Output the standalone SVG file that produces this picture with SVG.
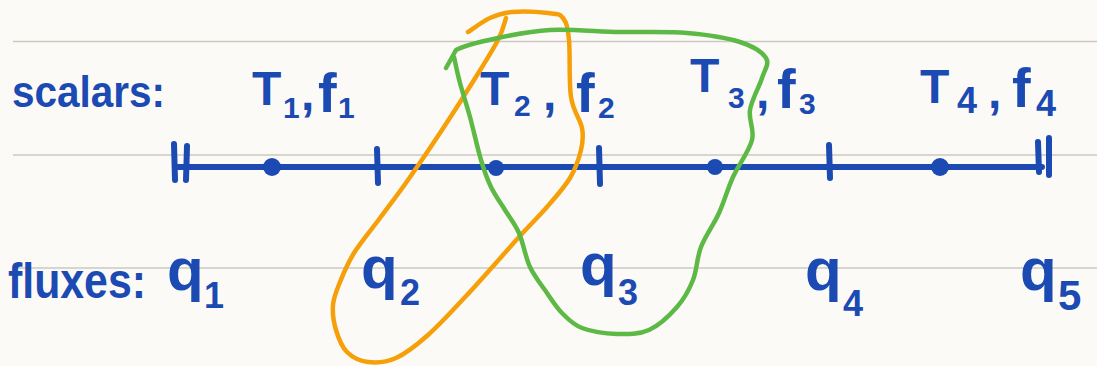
<svg xmlns="http://www.w3.org/2000/svg" width="1097" height="366" viewBox="0 0 1097 366">
<style>
.rule{stroke:#cbc8c2;stroke-width:1.6;fill:none}
.ink{fill:#1b4ab3;font-family:"Liberation Sans",Arial,sans-serif;font-weight:bold}
.big{font-size:48px}
.f{font-size:56px}
.sub{font-size:30px}
.q{font-size:60px}
.qs{font-size:36px}
.axis{stroke:#1b4ab3;stroke-width:6;stroke-linecap:round;fill:none}
.dot{fill:#1b4ab3}
.loop{fill:none;stroke-width:4.5;stroke-linecap:round;stroke-linejoin:round}
</style>
<rect width="1097" height="366" fill="#fcfaf6"/>
<g id="rules">
<line class="rule" x1="13" y1="41.5" x2="1097" y2="41.5"/>
<line class="rule" x1="13" y1="155" x2="1097" y2="155"/>
<line class="rule" x1="13" y1="268" x2="1097" y2="268"/>
</g>
<g id="axis">
<line class="axis" x1="178" y1="167" x2="1042" y2="167"/>
<path class="axis" d="M174,144 L175,180 M187,146 L186,180"/>
<path class="axis" d="M1038,142 L1039,172 M1049,138 L1049,175"/>
<path class="axis" d="M377,149 L378,183 M599,148 L600,184 M829,145 L830,178"/>
<circle class="dot" cx="272" cy="167" r="9"/>
<circle class="dot" cx="496" cy="168" r="8"/>
<circle class="dot" cx="715" cy="167" r="8"/>
<circle class="dot" cx="940" cy="167" r="9"/>
</g>
<g id="scalars-label"><text class="ink" x="12" y="107" font-size="44" textLength="153" lengthAdjust="spacingAndGlyphs">scalars:</text></g>
<g id="fluxes-label"><text class="ink" x="8" y="298" font-size="50" textLength="138" lengthAdjust="spacingAndGlyphs">fluxes:</text></g>
<g id="cell1"><text class="ink"><tspan class="big" x="252" y="105">T</tspan><tspan class="sub" x="283" y="118">1</tspan><tspan class="big" x="301" y="110">,</tspan><tspan class="f" x="318" y="112">f</tspan><tspan class="sub" x="338" y="118">1</tspan></text></g>
<g id="cell2"><text class="ink"><tspan class="big" x="480" y="105">T</tspan><tspan class="sub" x="514" y="116">2</tspan><tspan class="big" x="543" y="110">,</tspan><tspan class="f" x="576" y="112">f</tspan><tspan class="sub" x="598" y="118">2</tspan></text></g>
<g id="cell3"><text class="ink"><tspan class="big" x="690" y="92">T</tspan><tspan class="sub" x="728" y="108">3</tspan><tspan class="big" x="756" y="108">,</tspan><tspan class="f" x="777" y="108">f</tspan><tspan class="sub" x="799" y="114">3</tspan></text></g>
<g id="cell4"><text class="ink"><tspan class="big" x="920" y="103">T</tspan><tspan font-size="36" x="957" y="113">4</tspan><tspan class="big" x="988" y="108">,</tspan><tspan class="f" x="1012" y="107">f</tspan><tspan font-size="36" x="1036" y="116">4</tspan></text></g>
<g id="flux1"><text class="ink"><tspan class="q" x="167" y="290">q</tspan><tspan class="qs" x="204" y="308">1</tspan></text></g>
<g id="flux2"><text class="ink"><tspan class="q" x="361" y="288">q</tspan><tspan class="qs" x="400" y="305">2</tspan></text></g>
<g id="flux3"><text class="ink"><tspan class="q" x="580" y="285">q</tspan><tspan class="qs" x="618" y="305">3</tspan></text></g>
<g id="flux4"><text class="ink"><tspan class="q" x="805" y="290">q</tspan><tspan class="qs" x="843" y="316">4</tspan></text></g>
<g id="flux5"><text class="ink"><tspan class="q" x="1020" y="290">q</tspan><tspan font-size="42" x="1058" y="310">5</tspan></text></g>
<g id="connectors">
<path id="orange-group" class="loop" stroke="#f5a00a" d="M468,32 C471.7,29.7 482.7,21.3 490,18 S502.3,12.8 512,12 S539.5,12 548,13 S559.5,13.5 563,18 S567.7,26.8 569,40 S568.8,82.3 571,97 S580.3,119.2 582,128 S583,141.7 581,150 S575.7,168.5 570,178 S555.5,197.2 547,207 S532.3,222.3 519,237 S482.2,278.7 467,295 S439.8,324.5 428,335 S406,353.5 396,358 S376.2,363 368,362 S352.3,357.3 347,352 S338.3,337.8 336,330 S332.3,313 333,305 S336.5,290.7 340,282 S347.3,263.7 354,253 S371,230.2 380,218 S397.7,194.7 408,180 S431,146.7 442,130 S464.7,95 474,80 S492.7,50.3 498,40 S504.7,21.7 506,18"/>
<path id="green-group" class="loop" stroke="#5db945" d="M446,68 L456,50 C464.7,45.2 482.3,41.3 498,38 S529.7,31 550,30 S597.2,31.5 620,32 S667,31.3 687,33 S726.8,37.8 740,42 S762.3,52 766,58 S764.7,69.3 762,78 S751.7,99.7 750,110 S754.8,128.8 752,140 S738.5,164.8 733,177 S724.3,201.3 719,213 S705.3,235.8 701,247 S697,270 693,280 S684.3,298.7 677,307 S659,325.5 649,330 S628.2,334.3 617,334 S591.2,331.5 582,328 S567.8,318.8 562,313 S552.3,300.7 547,293 S534.7,277 530,267 S523.2,242.5 519,233 S509.7,217.7 505,210 S495,195.3 491,187 S484.5,171.7 481,160 S473.5,129.8 470,117 S462.7,93 460,83 S455,61.3 454,57"/>
</g>
</svg>
